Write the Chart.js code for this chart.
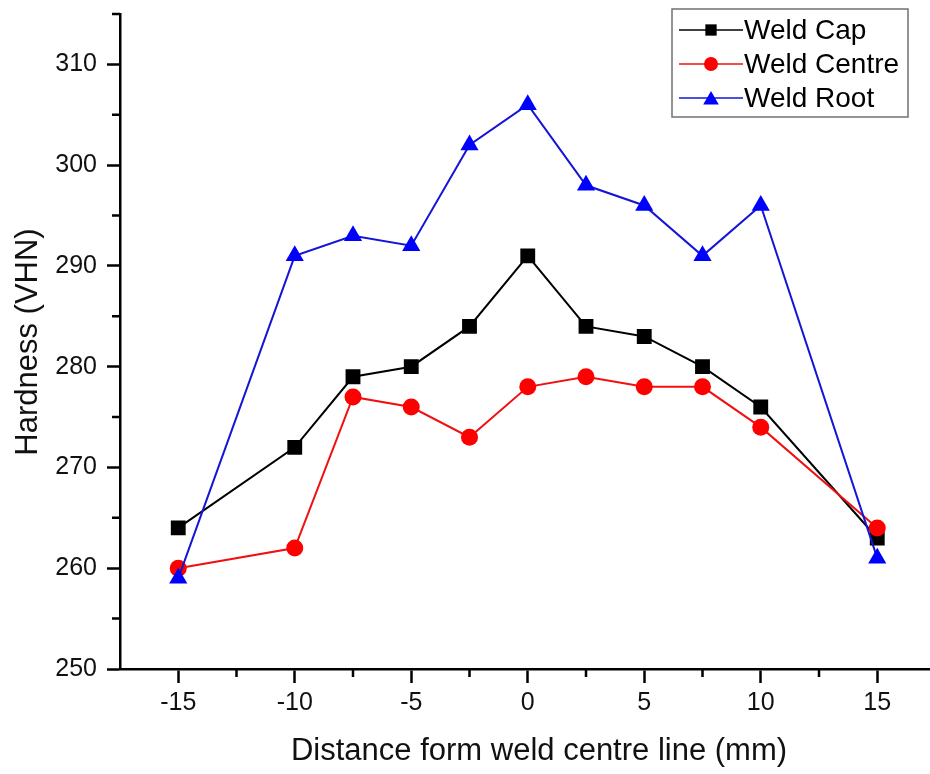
<!DOCTYPE html>
<html>
<head>
<meta charset="utf-8">
<title>Hardness profile</title>
<script src="https://cdn.jsdelivr.net/npm/chart.js@4.4.0/dist/chart.umd.min.js"></script>
<style>
  html, body { margin: 0; padding: 0; background: #fff; overflow: hidden; }
  #wrap { width: 930px; height: 774px; overflow: hidden; }
</style>
</head>
<body>
<div id="wrap"><canvas id="hardness-chart" width="946" height="774"></canvas></div>
<script>
// distance from the weld centre line (mm) and hardness readings (VHN)
const distances = [-15, -10, -7.5, -5, -2.5, 0, 2.5, 5, 7.5, 10, 15];
const weldCap = [264, 272, 279, 280, 284, 291, 284, 283, 280, 276, 263];
const weldCentre = [260, 262, 277, 276, 273, 278, 279, 278, 278, 274, 264];
const weldRoot = [259, 291, 293, 292, 302, 306, 298, 296, 291, 296, 261];

const seriesNames = ["Weld Cap", "Weld Centre", "Weld Root"];
const xTitle = "Distance form weld centre line (mm)";
const yTitle = "Hardness (VHN)";

const xTicks = [-15, -10, -5, 0, 5, 10, 15];
const xMinorTicks = [-12.5, -7.5, -2.5, 2.5, 7.5, 12.5, 17.5];
const yTicks = [250, 260, 270, 280, 290, 300, 310];
const yMinorTicks = [255, 265, 275, 285, 295, 305, 315];

const FONT = "'Liberation Sans', Arial, sans-serif";

function toPoints(values) {
    return distances.map((d, i) => ({ x: d, y: values[i] }));
}

// fixed scale sizes, no extra room kept for the end labels
function fixSize(prop, size) {
    return scale => {
        scale[prop] = size;
        scale.paddingTop = 0;
        scale.paddingBottom = 0;
        scale.paddingLeft = 0;
        scale.paddingRight = 0;
    };
}

// short outward ticks between the labelled ones
const minorTicks = {
    id: "minorTicks",
    afterDraw(chart) {
        const { ctx, chartArea, scales } = chart;
        ctx.save();
        ctx.strokeStyle = "#000";
        ctx.lineWidth = 2.5;
        ctx.beginPath();
        xMinorTicks.forEach(v => {
            const px = scales.x.getPixelForValue(v);
            ctx.moveTo(px, chartArea.bottom);
            ctx.lineTo(px, chartArea.bottom + 8);
        });
        yMinorTicks.forEach(v => {
            const py = scales.y.getPixelForValue(v);
            ctx.moveTo(chartArea.left, py);
            ctx.lineTo(chartArea.left - 8, py);
        });
        ctx.stroke();
        ctx.restore();
    }
};

// axis titles, placed a little off the scale centres
const axisTitles = {
    id: "axisTitles",
    afterDraw(chart) {
        const { ctx } = chart;
        ctx.save();
        ctx.fillStyle = "#111";
        ctx.font = "31px " + FONT;
        ctx.textAlign = "center";
        ctx.textBaseline = "middle";
        ctx.fillText(xTitle, 539, 751);
        ctx.translate(28, 342);
        ctx.rotate(-Math.PI / 2);
        ctx.fillText(yTitle, 0, 0);
        ctx.restore();
    }
};

// boxed legend in the top right corner
const boxLegend = {
    id: "boxLegend",
    afterDraw(chart) {
        const { ctx } = chart;
        const box = { left: 672, top: 9, width: 236, height: 108 };
        ctx.save();
        ctx.fillStyle = "#fff";
        ctx.fillRect(box.left, box.top, box.width, box.height);
        ctx.strokeStyle = "#707070";
        ctx.lineWidth = 1.5;
        ctx.strokeRect(box.left, box.top, box.width, box.height);

        const rowY = [30, 64, 98];
        chart.data.datasets.forEach((ds, i) => {
            const y = rowY[i];
            ctx.strokeStyle = ds.borderColor;
            ctx.lineWidth = 1.5;
            ctx.beginPath();
            ctx.moveTo(679, y);
            ctx.lineTo(743, y);
            ctx.stroke();
            ctx.fillStyle = ds.pointBackgroundColor;
            ctx.strokeStyle = ds.pointBackgroundColor;
            Chart.helpers.drawPoint(ctx, {
                pointStyle: ds.pointStyle,
                radius: ds.legendRadius,
                borderWidth: 0,
                rotation: 0
            }, 711, y + (ds.pointStyle === "triangle" ? 2 : 0));

            ctx.fillStyle = "#000";
            ctx.font = "28px " + FONT;
            ctx.textBaseline = "middle";
            ctx.textAlign = "left";
            ctx.fillText(ds.label, 744, y + 1);
        });
        ctx.restore();
    }
};

const ctx = document.getElementById("hardness-chart").getContext("2d");

const hardnessChart = new Chart(ctx, {
    type: "scatter",
    data: {
        datasets: [
            {
                label: seriesNames[0],
                data: toPoints(weldCap),
                showLine: true,
                borderColor: "#000",
                borderWidth: 2,
                pointStyle: "rect",
                pointRadius: 10.5,
                pointBackgroundColor: "#000",
                pointBorderWidth: 0,
                legendRadius: 8,
                order: 3
            },
            {
                label: seriesNames[1],
                data: toPoints(weldCentre),
                showLine: true,
                borderColor: "#f01010",
                borderWidth: 2,
                pointStyle: "circle",
                pointRadius: 8.5,
                pointBackgroundColor: "#ff0000",
                pointBorderWidth: 0,
                legendRadius: 7,
                order: 2
            },
            {
                label: seriesNames[2],
                data: toPoints(weldRoot),
                showLine: true,
                borderColor: "#1515d8",
                borderWidth: 2,
                pointStyle: "triangle",
                pointRadius: 10.5,
                pointBackgroundColor: "#0000ff",
                pointBorderWidth: 0,
                legendRadius: 9,
                order: 1
            }
        ]
    },
    options: {
        responsive: false,
        animation: false,
        events: [],
        layout: {
            padding: { top: 14, right: 5, left: 0, bottom: 0 }
        },
        plugins: {
            legend: { display: false },
            tooltip: { enabled: false }
        },
        scales: {
            x: {
                type: "linear",
                min: -17.5,
                max: 17.5,
                afterFit: fixSize("height", 105),
                afterBuildTicks: scale => {
                    scale.ticks = xTicks.map(v => ({ value: v }));
                },
                border: { display: true, color: "#000", width: 2.5 },
                grid: {
                    drawOnChartArea: false,
                    drawTicks: true,
                    tickLength: 14,
                    tickColor: "#000",
                    tickWidth: 2.5
                },
                ticks: {
                    color: "#111",
                    font: { family: FONT, size: 25 },
                    padding: 5,
                    maxRotation: 0,
                    callback: v => String(v)
                },
                title: { display: false }
            },
            y: {
                type: "linear",
                min: 250,
                max: 315,
                afterFit: fixSize("width", 120),
                afterBuildTicks: scale => {
                    scale.ticks = yTicks.map(v => ({ value: v }));
                },
                border: { display: true, color: "#000", width: 2.5 },
                grid: {
                    drawOnChartArea: false,
                    drawTicks: true,
                    tickLength: 13,
                    tickColor: "#000",
                    tickWidth: 2.5
                },
                ticks: {
                    color: "#111",
                    font: { family: FONT, size: 25 },
                    padding: 10,
                    callback: v => String(v)
                },
                title: { display: false }
            }
        }
    },
    plugins: [minorTicks, axisTitles, boxLegend]
});
</script>
</body>
</html>
